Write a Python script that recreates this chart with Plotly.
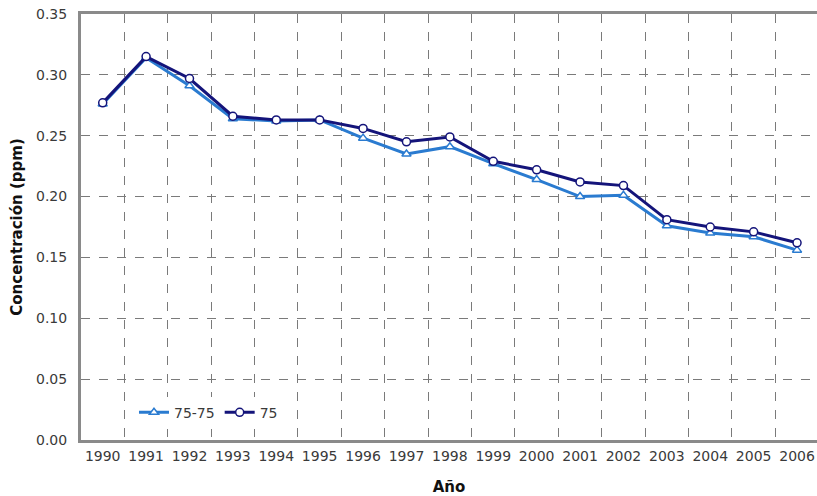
import plotly.graph_objects as go

years = [str(y) for y in range(1990, 2007)]
serie_75_75 = [0.276, 0.314, 0.291, 0.264, 0.262, 0.263, 0.248, 0.235, 0.241, 0.227,
               0.214, 0.200, 0.201, 0.176, 0.170, 0.167, 0.156]
serie_75 = [0.277, 0.315, 0.297, 0.266, 0.263, 0.263, 0.256, 0.245, 0.249, 0.229,
            0.222, 0.212, 0.209, 0.181, 0.175, 0.171, 0.162]
y_ticks = [0.00, 0.05, 0.10, 0.15, 0.20, 0.25, 0.30, 0.35]

light = "#2a7bd0"
dark = "#14147a"
font_family = "DejaVu Sans, Verdana, sans-serif"

fig = go.Figure()
fig.add_trace(go.Scatter(
    x=years, y=serie_75_75, name="75-75", mode="lines+markers",
    line=dict(color=light, width=3),
    marker=dict(symbol="triangle-up", size=8, color="white", line=dict(color=light, width=1.5)),
))
fig.add_trace(go.Scatter(
    x=years, y=serie_75, name="75", mode="lines+markers",
    line=dict(color=dark, width=3),
    marker=dict(symbol="circle", size=8, color="white", line=dict(color=dark, width=1.5)),
))

fig.update_layout(
    width=817, height=496,
    margin=dict(l=81, r=0, t=14, b=56, autoexpand=False),
    paper_bgcolor="white", plot_bgcolor="white",
    font=dict(family=font_family, size=13, color="#3a3a3a"),
    showlegend=True,
    legend=dict(orientation="h", x=0.072, y=0.064, xanchor="left", yanchor="middle",
                bgcolor="white", font=dict(size=14, color="#3a3a3a"),
                tracegroupgap=0),
    xaxis=dict(
        type="category", range=[-0.5, 16.46], tickson="boundaries", automargin=False,
        showgrid=True, gridcolor="#7a7a7a", griddash="dash", gridwidth=1,
        showline=True, linecolor="#8a8a8a", linewidth=3, mirror=True,
        ticks="", ticklabelstandoff=1, tickangle=0,
        tickfont=dict(size=14, color="#3a3a3a"),
        title=dict(text="<b>Año</b>", font=dict(size=15, color="#111111"), standoff=21),
    ),
    yaxis=dict(
        range=[0, 0.35], tickvals=y_ticks, tickformat=".2f", automargin=False,
        showgrid=True, gridcolor="#7a7a7a", griddash="dash", gridwidth=1,
        zeroline=False,
        showline=True, linecolor="#8a8a8a", linewidth=3,
        ticks="", ticklabelstandoff=8,
        tickfont=dict(size=14, color="#3a3a3a"),
        title=dict(text="<b>Concentración (ppm)</b>", font=dict(size=15, color="#111111"), standoff=10),
    ),
)

fig.write_html("out.html", config={"displayModeBar": False},
               post_script="document.body.style.margin='0';")
